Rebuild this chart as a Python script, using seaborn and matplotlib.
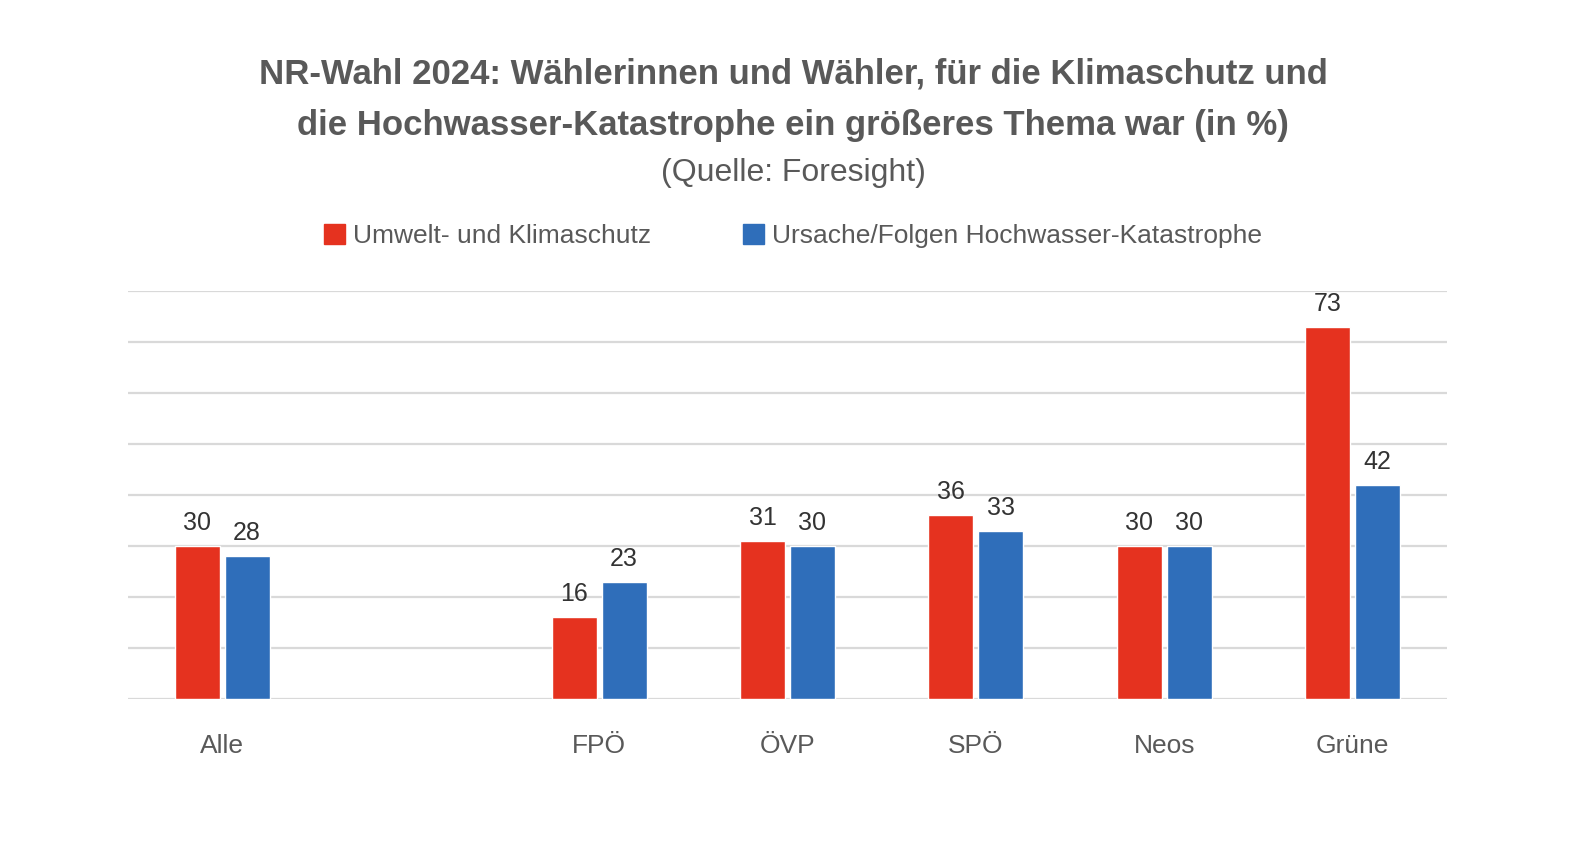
import pandas as pd
import matplotlib.pyplot as plt
import seaborn as sns

# Data
categories = ['Alle', 'FPÖ', 'ÖVP', 'SPÖ', 'Neos', 'Grüne']
order = ['Alle', ' ', 'FPÖ', 'ÖVP', 'SPÖ', 'Neos', 'Grüne']
klima = [30, 16, 31, 36, 30, 73]
hochwasser = [28, 23, 30, 33, 30, 42]
series_names = ['Umwelt- und Klimaschutz', 'Ursache/Folgen Hochwasser-Katastrophe']

df = pd.DataFrame({
    'Gruppe': categories * 2,
    'Thema': [series_names[0]] * len(categories) + [series_names[1]] * len(categories),
    'Wert': klima + hochwasser,
})

sns.set_style('white')
plt.rcParams['font.family'] = ['Liberation Sans', 'DejaVu Sans']

text_color = '#595959'
colors = ['#E5321F', '#2F6EBA']

fig = plt.figure(figsize=(15.86, 8.52), dpi=100)
ax = fig.add_axes([128 / 1586, 1 - 699 / 852, (1447 - 128) / 1586, (699 - 291) / 852])

sns.barplot(data=df, x='Gruppe', y='Wert', hue='Thema', order=order,
            hue_order=series_names, palette=colors, width=0.53, gap=0.1,
            saturation=1, ax=ax, legend=False)

for cont in ax.containers:
    ax.bar_label(cont, fmt='%d', padding=8, fontsize=18, color='#333333')

ax.set_ylim(0, 80)
ax.set_yticks(range(0, 81, 10))
ax.yaxis.grid(True, color='#D9D9D9', linewidth=1.6)
ax.set_axisbelow(True)
ax.tick_params(axis='y', left=False, labelleft=False)
ax.tick_params(axis='x', bottom=False, labelsize=19, labelcolor=text_color, pad=22)
for s in ax.spines.values():
    s.set_visible(False)
ax.set_xlabel('')
ax.set_ylabel('')

# Titles
fig.text(0.5, 1 - 74 / 852, 'NR-Wahl 2024: Wählerinnen und Wähler, für die Klimaschutz und',
         ha='center', va='center', fontsize=25, fontweight='bold', color=text_color)
fig.text(0.5, 1 - 126 / 852, 'die Hochwasser-Katastrophe ein größeres Thema war (in %)',
         ha='center', va='center', fontsize=25, fontweight='bold', color=text_color)
fig.text(0.5, 1 - 173 / 852, '(Quelle: Foresight)',
         ha='center', va='center', fontsize=23, color=text_color)

# Legend
handles = [plt.Rectangle((0, 0), 1, 1, color=c) for c in colors]
fig.legend(handles, series_names, loc='center', bbox_to_anchor=(0.5, 1 - 236 / 852),
           ncol=2, frameon=False, fontsize=19, labelcolor=text_color,
           handlelength=0.8, handleheight=0.8, handletextpad=0.3, columnspacing=3.5)

fig.savefig('out.png', dpi=100, facecolor='white')
